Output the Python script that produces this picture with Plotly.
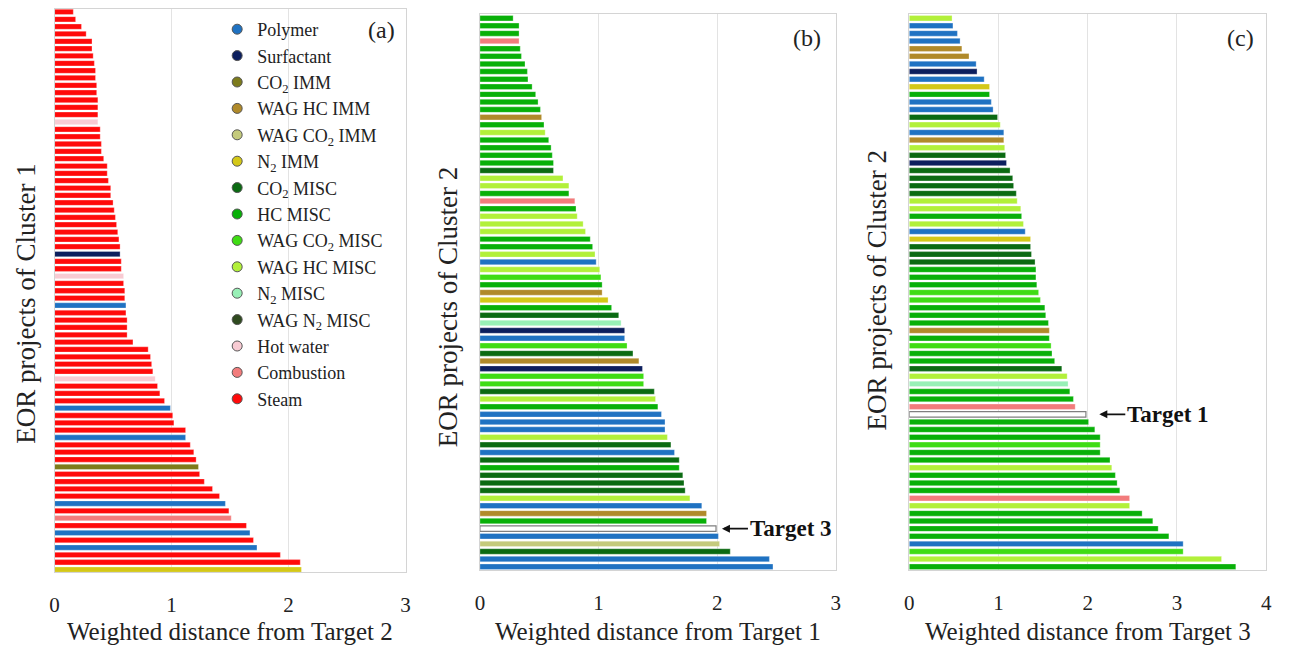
import plotly.graph_objects as go

# ---------------- data ----------------
categories = ["Polymer", "Surfactant", "CO2 IMM", "WAG HC IMM", "WAG CO2 IMM", "N2 IMM",
              "CO2 MISC", "HC MISC", "WAG CO2 MISC", "WAG HC MISC", "N2 MISC",
              "WAG N2 MISC", "Hot water", "Combustion", "Steam"]
legend_labels = ["Polymer", "Surfactant", "CO<sub>2</sub> IMM", "WAG HC IMM",
                 "WAG CO<sub>2</sub> IMM", "N<sub>2</sub> IMM", "CO<sub>2</sub> MISC", "HC MISC",
                 "WAG CO<sub>2</sub> MISC", "WAG HC MISC", "N<sub>2</sub> MISC",
                 "WAG N<sub>2</sub> MISC", "Hot water", "Combustion", "Steam"]
cat_colors = ["#1f72c2", "#0c1f5e", "#7d7b1c", "#b08a2a", "#c4ca7c", "#d4c818",
              "#0b6a12", "#08b008", "#3fdc14", "#b2f03a", "#98f0b6",
              "#2f4a1f", "#f8cbd3", "#f27c7c", "#ff0a0a"]

# Panel (a): Cluster 1, distance from Target 2
a_values = [0.16, 0.18, 0.23, 0.27, 0.32, 0.32, 0.33, 0.34, 0.35, 0.35, 0.36, 0.36, 0.37, 0.37,
            0.37, 0.37, 0.39, 0.39, 0.40, 0.40, 0.42, 0.45, 0.45, 0.46, 0.48, 0.48, 0.50, 0.51,
            0.52, 0.53, 0.54, 0.55, 0.56, 0.56, 0.57, 0.57, 0.59, 0.59, 0.60, 0.60, 0.61, 0.61,
            0.62, 0.62, 0.62, 0.67, 0.80, 0.82, 0.83, 0.84, 0.86, 0.88, 0.90, 0.94, 0.99, 1.01,
            1.02, 1.12, 1.12, 1.16, 1.19, 1.21, 1.23, 1.24, 1.28, 1.35, 1.41, 1.46, 1.49, 1.51,
            1.64, 1.67, 1.70, 1.73, 1.93, 2.10, 2.11]
a_types = ["Steam"] * 15 + ["Hot water"] + ["Steam"] * 17 + ["Surfactant"] + ["Steam"] * 2 + \
          ["Hot water"] + ["Steam"] * 3 + ["Polymer"] + ["Steam"] * 9 + ["Hot water"] + \
          ["Steam"] * 3 + ["Polymer"] + ["Steam"] * 3 + ["Polymer"] + ["Steam"] * 3 + \
          ["CO2 IMM"] + ["Steam"] * 4 + ["Polymer", "Steam", "Combustion", "Steam", "Polymer",
                                         "Steam", "Polymer", "Steam", "Steam", "N2 IMM"]

# Panel (b): Cluster 2, distance from Target 1
b_values = [0.28, 0.33, 0.33, 0.33, 0.34, 0.35, 0.38, 0.40, 0.405, 0.44, 0.47, 0.49, 0.51, 0.52,
            0.54, 0.55, 0.58, 0.60, 0.61, 0.62, 0.62, 0.70, 0.75, 0.75, 0.80, 0.81, 0.82, 0.87,
            0.89, 0.93, 0.95, 0.97, 0.98, 1.01, 1.02, 1.03, 1.03, 1.08, 1.11, 1.17, 1.19, 1.22,
            1.22, 1.24, 1.29, 1.34, 1.37, 1.38, 1.38, 1.47, 1.48, 1.50, 1.53, 1.56, 1.56, 1.58,
            1.61, 1.64, 1.68, 1.68, 1.71, 1.72, 1.73, 1.77, 1.87, 1.91, 1.91, 1.99, 2.01, 2.02,
            2.11, 2.44, 2.47]
b_types = ["HC MISC"] * 3 + ["Combustion"] + ["HC MISC"] * 9 + ["WAG HC IMM", "HC MISC",
           "WAG HC MISC"] + ["HC MISC"] * 4 + ["CO2 MISC", "WAG HC MISC", "WAG HC MISC",
           "HC MISC", "Combustion", "HC MISC", "WAG HC MISC", "WAG HC MISC", "WAG HC MISC",
           "HC MISC", "HC MISC", "WAG HC MISC", "Polymer", "WAG HC MISC", "WAG CO2 MISC",
           "HC MISC", "WAG HC IMM", "N2 IMM", "HC MISC", "CO2 MISC", "N2 MISC", "Surfactant",
           "Polymer", "WAG CO2 MISC", "CO2 MISC", "WAG HC IMM", "Surfactant", "WAG CO2 MISC",
           "WAG CO2 MISC", "CO2 MISC", "WAG HC MISC", "HC MISC", "Polymer", "Polymer",
           "Polymer", "WAG HC MISC", "CO2 MISC", "Polymer", "CO2 MISC", "HC MISC", "CO2 MISC",
           "CO2 MISC", "CO2 MISC", "WAG HC MISC", "Polymer", "WAG HC IMM", "HC MISC",
           "Target", "Polymer", "WAG CO2 IMM", "CO2 MISC", "Polymer", "Polymer"]

# Panel (c): Cluster 2, distance from Target 3
c_values = [0.48, 0.49, 0.54, 0.57, 0.59, 0.67, 0.75, 0.76, 0.84, 0.90, 0.90, 0.92, 0.94, 0.99,
            1.02, 1.06, 1.06, 1.07, 1.08, 1.09, 1.13, 1.16, 1.17, 1.20, 1.21, 1.25, 1.26, 1.28,
            1.30, 1.36, 1.36, 1.37, 1.41, 1.42, 1.42, 1.43, 1.45, 1.47, 1.52, 1.53, 1.56, 1.57,
            1.57, 1.59, 1.60, 1.63, 1.71, 1.77, 1.78, 1.80, 1.84, 1.86, 1.98, 2.01, 2.08, 2.14,
            2.14, 2.14, 2.25, 2.27, 2.31, 2.33, 2.36, 2.47, 2.47, 2.61, 2.73, 2.79, 2.91, 3.07,
            3.07, 3.50, 3.66]
c_types = ["WAG HC MISC", "Polymer", "Polymer", "Polymer", "WAG HC IMM", "WAG HC IMM",
           "Polymer", "Surfactant", "Polymer", "N2 IMM", "HC MISC", "Polymer", "Polymer",
           "CO2 MISC", "WAG HC MISC", "Polymer", "WAG HC IMM", "WAG HC MISC", "CO2 MISC",
           "Surfactant", "CO2 MISC", "CO2 MISC", "CO2 MISC", "CO2 MISC", "WAG HC MISC",
           "WAG HC MISC", "HC MISC", "WAG HC MISC", "Polymer", "N2 IMM", "CO2 MISC",
           "CO2 MISC", "CO2 MISC", "HC MISC", "HC MISC", "HC MISC", "WAG CO2 MISC",
           "WAG CO2 MISC", "HC MISC", "HC MISC", "HC MISC", "WAG HC IMM", "HC MISC",
           "WAG CO2 MISC", "HC MISC", "HC MISC", "CO2 MISC", "WAG HC MISC", "N2 MISC",
           "HC MISC", "HC MISC", "Combustion", "Target", "HC MISC", "HC MISC", "HC MISC",
           "WAG CO2 MISC", "HC MISC", "HC MISC", "WAG HC MISC", "HC MISC", "HC MISC",
           "HC MISC", "Combustion", "WAG HC MISC", "HC MISC", "HC MISC", "HC MISC", "HC MISC",
           "Polymer", "WAG CO2 MISC", "WAG HC MISC", "HC MISC"]

panel_labels = ["(a)", "(b)", "(c)"]
x_titles = ["Weighted distance from Target 2", "Weighted distance from Target 1",
            "Weighted distance from Target 3"]
y_titles = ["EOR projects of Cluster 1", "EOR projects of Cluster 2", "EOR projects of Cluster 2"]
x_max = [3, 3, 4]

# ---------------- figure ----------------
W, H = 1290, 655
FONT = "Liberation Serif"
color_map = dict(zip(categories, cat_colors))
color_map["Target"] = "#ffffff"

fig = go.Figure()
panels = [(a_values, a_types), (b_values, b_types), (c_values, c_types)]
# pixel geometry of plot areas: (left, right, top, bottom)
geom = [(50, 404, 9, 572), (479, 838, 14, 570), (912, 1272, 14, 570)]
pads = [(0.40, 0.33), (0.55, 0.43), (0.55, 0.43)]
ytitle_pos = [(21, 304), (447, 307), (880, 290)]
plabel_pos = [(395, 30), (825, 38), (1262, 38)]

for i, (vals, types) in enumerate(panels):
    n = len(vals)
    idx = list(range(n))
    colors = [color_map[t] for t in types]
    lcol = ["#7f7f7f" if t == "Target" else "rgba(255,255,255,0.6)" for t in types]
    lw = [1.2 if t == "Target" else 0.5 for t in types]
    sfx = "" if i == 0 else str(i + 1)
    fig.add_trace(go.Bar(x=vals, y=idx, orientation="h", width=0.72,
                         marker=dict(color=colors, line=dict(color=lcol, width=lw)),
                         showlegend=False, hoverinfo="x",
                         xaxis="x" + sfx, yaxis="y" + sfx))
    l, r, t, b = geom[i]
    ptop, pbot = pads[i]
    fig.layout["xaxis" + sfx] = dict(
        domain=[l / W, r / W], anchor="y" + sfx, range=[0, x_max[i]],
        tickvals=list(range(x_max[i] + 1)), showgrid=True, gridcolor="#e3e3e3", gridwidth=1,
        showline=True, linecolor="#d4d4d4", linewidth=1, mirror=True, zeroline=False,
        ticks="outside", ticklen=14, tickcolor="rgba(0,0,0,0)",
        tickfont=dict(family=FONT, size=21, color="#222"))
    fig.layout["yaxis" + sfx] = dict(
        domain=[1 - b / H, 1 - t / H], anchor="x" + sfx, range=[n - 1 + pbot, -ptop],
        showticklabels=False, showgrid=False, zeroline=False, showline=True,
        linecolor="#d4d4d4", linewidth=1, mirror=True, ticks="")
    # titles
    fig.add_annotation(text=x_titles[i], xref="paper", yref="paper",
                       x=(l + r) / 2 / W, y=1 - 631 / H, xanchor="center", yanchor="middle",
                       showarrow=False, font=dict(family=FONT, size=25, color="#222"))
    yx, yy = ytitle_pos[i]
    fig.add_annotation(text=y_titles[i], xref="paper", yref="paper",
                       x=yx / W, y=1 - yy / H, xanchor="center", yanchor="middle",
                       textangle=-90, showarrow=False,
                       font=dict(family=FONT, size=27, color="#222"))
    px, py = plabel_pos[i]
    fig.add_annotation(text=panel_labels[i], xref="paper", yref="paper",
                       x=px / W, y=1 - py / H, xanchor="right", yanchor="middle",
                       showarrow=False, font=dict(family=FONT, size=24, color="#222"))

# legend entries (dummy markers)
for name, col in zip(legend_labels, cat_colors):
    fig.add_trace(go.Scatter(x=[None], y=[None], mode="markers", name=name,
                             marker=dict(symbol="circle", size=10, color=col,
                                         line=dict(color="#555", width=1)),
                             xaxis="x", yaxis="y"))

# target arrows
fig.add_annotation(text="<b>Target 3</b>", xref="x2", yref="y2",
                   x=b_values[b_types.index("Target")] + 0.05, y=b_types.index("Target"),
                   ax=26, ay=0, xanchor="left", yanchor="middle", showarrow=True, arrowhead=2,
                   arrowsize=1, arrowwidth=1.6, arrowcolor="#111",
                   font=dict(family=FONT, size=23, color="#111"))
fig.add_annotation(text="<b>Target 1</b>", xref="x3", yref="y3",
                   x=c_values[c_types.index("Target")] + 0.15, y=c_types.index("Target"),
                   ax=26, ay=0, xanchor="left", yanchor="middle", showarrow=True, arrowhead=2,
                   arrowsize=1, arrowwidth=1.6, arrowcolor="#111",
                   font=dict(family=FONT, size=23, color="#111"))

fig.update_layout(
    width=W, height=H, margin=dict(l=0, r=0, t=0, b=0),
    paper_bgcolor="white", plot_bgcolor="white", bargap=0.28,
    font=dict(family=FONT, size=18, color="#222"),
    legend=dict(x=214 / W, y=1 - 11 / H, xanchor="left", yanchor="top",
                bgcolor="rgba(0,0,0,0)", font=dict(family=FONT, size=18, color="#222"),
                itemwidth=30, tracegroupgap=0),
    showlegend=True,
)

fig.write_html("out.html")
